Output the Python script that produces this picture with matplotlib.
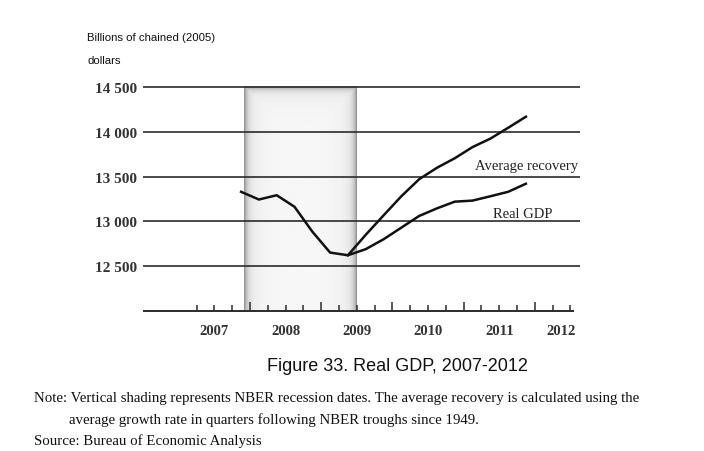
import numpy as np
import matplotlib
matplotlib.use("Agg")
import matplotlib.pyplot as plt

# quarterly data, billions of chained (2005) dollars
gdp_quarters = ['2007Q4', '2008Q1', '2008Q2', '2008Q3', '2008Q4', '2009Q1',
                '2009Q2', '2009Q3', '2009Q4', '2010Q1', '2010Q2', '2010Q3',
                '2010Q4', '2011Q1', '2011Q2', '2011Q3', '2011Q4']
real_gdp = [13330, 13244, 13292, 13163, 12886, 12652, 12622, 12690, 12800,
            12930, 13060, 13145, 13220, 13232, 13280, 13330, 13420]

avg_quarters = ['2009Q2', '2009Q3', '2009Q4', '2010Q1', '2010Q2', '2010Q3',
                '2010Q4', '2011Q1', '2011Q2', '2011Q3', '2011Q4']
avg_recovery = [12622, 12850, 13066, 13280, 13470, 13598, 13704, 13829,
                13923, 14044, 14168]

recession = (2007.92, 2009.5)
y_ticks = [12500, 13000, 13500, 14000, 14500]
years = [2007, 2008, 2009, 2010, 2011, 2012]

W, H = 704, 452


def qpos(q):
    # plot each quarter at its midpoint
    return int(q[:4]) + (int(q[-1]) - 0.5) / 4


def fx(px):
    return px / W


def fy(py):
    return 1 - py / H


x_gdp = np.array([qpos(q) for q in gdp_quarters])
x_avg = np.array([qpos(q) for q in avg_quarters])

fig = plt.figure(figsize=(W / 100, H / 100), dpi=100)
ax = fig.add_axes([fx(143), fy(312), (580 - 143) / W, (312 - 79) / H])
ax.set_xlim(2006.497, 2012.635)
ax.set_ylim(12000, 14600)
for s in ax.spines.values():
    s.set_visible(False)

# recession shading, darker towards the edges
nx, ny = 120, 240
gx = np.linspace(0, 113, nx)
gy = np.linspace(0, 224, ny)
dx = np.minimum(gx, 113 - gx)[None, :]
dy = gy[:, None]
d = np.minimum(dx, dy)
shade = 0.97 - 0.33 * np.exp(-d / 3.0) - 0.06 * np.exp(-d / 15.0)
ax.imshow(shade, cmap='gray', vmin=0, vmax=1, aspect='auto',
          extent=(recession[0], recession[1], 12000, 14500), origin='upper',
          interpolation='bilinear', zorder=1)

grid_col = '#2b2b2b'
ax.hlines(y_ticks, 2006.497, 2012.635, color=grid_col, lw=1.2, zorder=2)
ax.hlines(12000, 2006.497, 2012.55, color=grid_col, lw=1.4, zorder=2,
          clip_on=False)

ax.plot(x_gdp, real_gdp, color='#111111', lw=1.8, zorder=4,
        solid_joinstyle='round')
ax.plot(x_avg, avg_recovery, color='#111111', lw=1.8, zorder=4,
        solid_joinstyle='round')

serif = 'Liberation Serif'
ax.text(2011.89, 13629, 'Average recovery', family=serif, fontsize=10.5,
        ha='center', va='center', color='#222222')
ax.text(2011.83, 13083, 'Real GDP', family=serif, fontsize=10.5,
        ha='center', va='center', color='#222222')

# quarterly ticks pointing up from the baseline
quarters = np.arange(2007.25, 2012.51, 0.25)
major = [t for t in quarters if abs(t - round(t)) < 1e-6]
minor = [t for t in quarters if abs(t - round(t)) > 1e-6]
ax.set_xticks(major)
ax.set_xticks(minor, minor=True)
ax.set_xticklabels([])
ax.tick_params(axis='x', which='major', direction='in', length=6.5,
               width=1.1, color=grid_col)
ax.tick_params(axis='x', which='minor', direction='in', length=4,
               width=1.1, color=grid_col)
for yr in years:
    ax.text(min(yr + 0.5, 2012.37), 12000 - 19 / 0.0896, str(yr),
            family=serif, fontsize=10.5, fontweight='bold', ha='center',
            va='center', color='#333333')

ax.set_yticks(y_ticks)
ax.set_yticklabels([f'{v // 1000} {v % 1000:03d}' for v in y_ticks],
                   family=serif, fontsize=11, fontweight='bold',
                   color='#333333')
ax.tick_params(axis='y', length=0, pad=4)

sans = 'Liberation Sans'
fig.text(fx(87), fy(38), 'Billions of chained (2005)', family=sans,
         fontsize=8.2, va='center', color='#111111')
fig.text(fx(87), fy(61), 'dollars', family=sans, fontsize=8.2,
         va='center', color='#111111')

fig.text(fx(397), fy(367), 'Figure 33. Real GDP, 2007-2012', family=sans,
         fontsize=13, ha='center', va='center', color='#111111')

fig.text(fx(34), fy(399), 'Note: Vertical shading represents NBER recession '
         'dates. The average recovery is calculated using the',
         family=serif, fontsize=10.7, va='center', color='#111111')
fig.text(fx(69), fy(420), 'average growth rate in quarters following NBER '
         'troughs since 1949.', family=serif, fontsize=10.7, va='center',
         color='#111111')
fig.text(fx(34), fy(441), 'Source: Bureau of Economic Analysis',
         family=serif, fontsize=10.7, va='center', color='#111111')

fig.savefig('out.png', dpi=100)
